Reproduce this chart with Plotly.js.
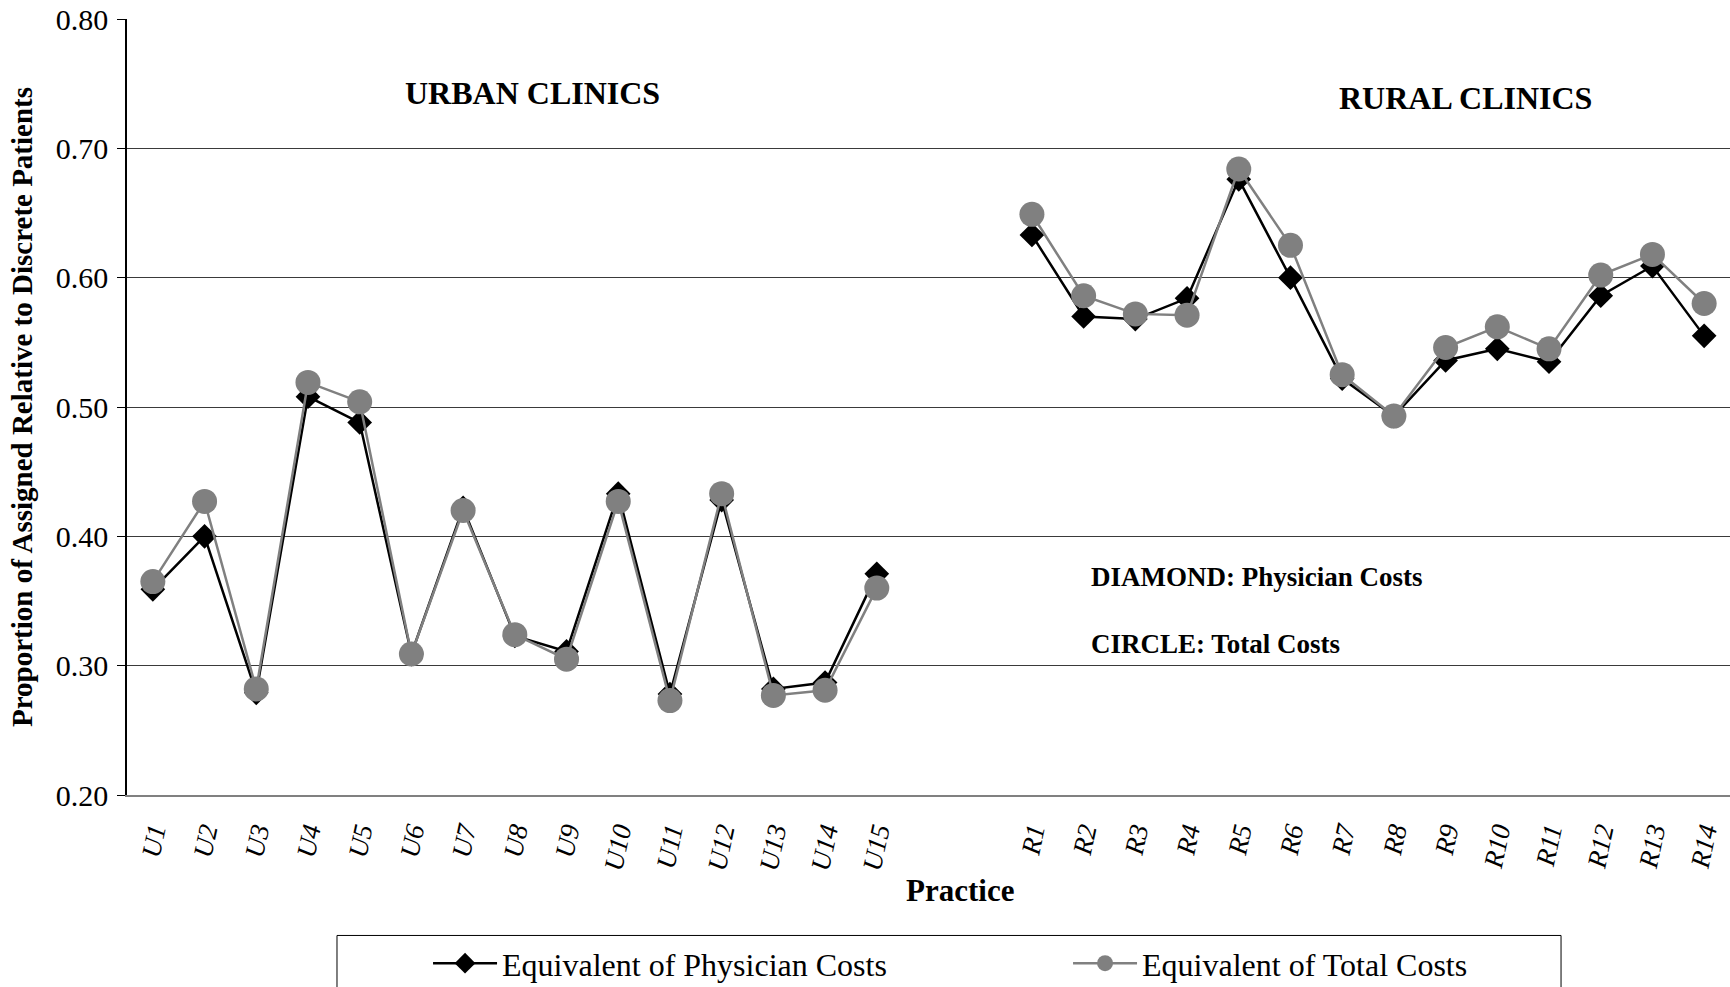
<!DOCTYPE html>
<html>
<head>
<meta charset="utf-8">
<script src="https://cdn.plot.ly/plotly-3.0.1.min.js"></script>
<style>
  html, body { margin: 0; padding: 0; background: #fff; overflow: hidden; }
  #plot { width: 1730px; height: 987px; }
</style>
</head>
<body>
<div id="plot"></div>
<script>
// practices
var urbanLabels = ["U1", "U2", "U3", "U4", "U5", "U6", "U7", "U8", "U9", "U10", "U11", "U12", "U13", "U14", "U15"];
var gapLabels = [" ", "  "];
var ruralLabels = ["R1", "R2", "R3", "R4", "R5", "R6", "R7", "R8", "R9", "R10", "R11", "R12", "R13", "R14"];

// diamonds: physician costs
var urbanPhysician = [0.359, 0.400, 0.279, 0.508, 0.488, 0.309, 0.422, 0.323, 0.311, 0.433, 0.278, 0.428, 0.282, 0.287, 0.371];
var ruralPhysician = [0.633, 0.570, 0.568, 0.584, 0.676, 0.600, 0.522, 0.493, 0.536, 0.545, 0.535, 0.586, 0.609, 0.555];

// circles: total costs
var urbanTotal = [0.365, 0.427, 0.282, 0.519, 0.504, 0.309, 0.420, 0.324, 0.305, 0.427, 0.273, 0.433, 0.277, 0.281, 0.360];
var ruralTotal = [0.649, 0.586, 0.572, 0.571, 0.684, 0.625, 0.525, 0.493, 0.546, 0.562, 0.545, 0.602, 0.618, 0.580];

var allLabels = urbanLabels.concat(gapLabels, ruralLabels);
var gapValues = gapLabels.map(function () { return null; });

var serif = "Liberation Serif, Times New Roman, serif";

var trace1 = {
  x: allLabels,
  y: urbanPhysician.concat(gapValues, ruralPhysician),
  name: "Equivalent of Physician Costs",
  type: "scatter",
  mode: "lines+markers",
  connectgaps: false,
  line: {color: "#000000", width: 2.5},
  marker: {symbol: "diamond", size: 19, color: "#000000"}
};

var trace2 = {
  x: allLabels,
  y: urbanTotal.concat(gapValues, ruralTotal),
  name: "Equivalent of Total Costs",
  type: "scatter",
  mode: "lines+markers",
  connectgaps: false,
  line: {color: "#808080", width: 2.5},
  marker: {symbol: "circle", size: 25, color: "#808080"}
};

var chart_data = [trace1, trace2];

var layout = {
  width: 1730,
  height: 987,
  margin: {l: 127, r: 0, t: 19, b: 192, autoexpand: false},
  paper_bgcolor: "#ffffff",
  plot_bgcolor: "#ffffff",
  font: {family: serif, color: "#000000"},
  showlegend: true,
  xaxis: {
    type: "category",
    categoryorder: "array",
    categoryarray: allLabels,
    range: [-0.5, allLabels.length - 0.5],
    showgrid: false,
    zeroline: false,
    showline: true,
    linecolor: "#808080",
    linewidth: 2,
    ticks: "",
    tickangle: -78,
    ticklabelstandoff: 8,
    tickfont: {family: serif, size: 27, style: "italic", color: "#000000"}
  },
  yaxis: {
    range: [0.2, 0.8],
    dtick: 0.1,
    tick0: 0.2,
    tickformat: ".2f",
    showgrid: true,
    gridcolor: "#3a3a3a",
    gridwidth: 1.2,
    zeroline: false,
    showline: true,
    linecolor: "#000000",
    linewidth: 1.5,
    ticks: "outside",
    ticklen: 8,
    tickcolor: "#000000",
    ticklabelstandoff: 3,
    tickfont: {family: serif, size: 30, color: "#000000"},
    title: {
      text: "Proportion of Assigned Relative to Discrete Patients",
      font: {family: serif, size: 29, weight: "bold", color: "#000000"},
      standoff: 15
    }
  },
  legend: {
    orientation: "h",
    x: 0.1878,
    xanchor: "left",
    y: -0.217,
    yanchor: "middle",
    bgcolor: "rgba(0,0,0,0)",
    borderwidth: 0,
    entrywidth: 561,
    itemwidth: 64,
    font: {family: serif, size: 32, color: "#000000"}
  },
  shapes: [{
    type: "rect",
    xref: "paper", yref: "paper",
    x0: 0.131, x1: 0.8946,
    y0: -0.181, y1: -0.35,
    line: {color: "#000000", width: 1},
    fillcolor: "rgba(0,0,0,0)",
    layer: "below"
  }],
  annotations: [
    {text: "<b>URBAN CLINICS</b>", xref: "paper", yref: "paper", x: 0.2527, y: 0.9045,
     showarrow: false, xanchor: "center", yanchor: "middle", font: {family: serif, size: 32}},
    {text: "<b>RURAL CLINICS</b>", xref: "paper", yref: "paper", x: 0.8347, y: 0.898,
     showarrow: false, xanchor: "center", yanchor: "middle", font: {family: serif, size: 32}},
    {text: "<b>DIAMOND: Physician Costs</b>", xref: "paper", yref: "paper", x: 0.600, y: 0.2813,
     showarrow: false, xanchor: "left", yanchor: "middle", font: {family: serif, size: 27}},
    {text: "<b>CIRCLE: Total Costs</b>", xref: "paper", yref: "paper", x: 0.600, y: 0.195,
     showarrow: false, xanchor: "left", yanchor: "middle", font: {family: serif, size: 27}},
    {text: "<b>Practice</b>", xref: "paper", yref: "paper", x: 0.5197, y: -0.123,
     showarrow: false, xanchor: "center", yanchor: "middle", font: {family: serif, size: 31}}
  ]
};

var config = {responsive: false, displayModeBar: false};

Plotly.newPlot("plot", chart_data, layout, config);
</script>
</body>
</html>
